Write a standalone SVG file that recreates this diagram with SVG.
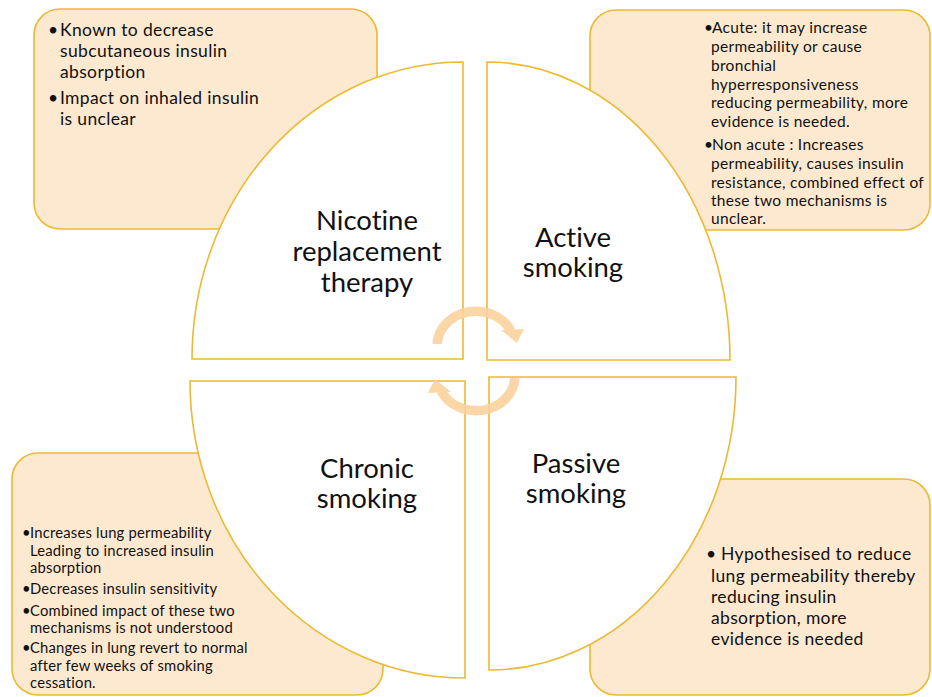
<svg xmlns="http://www.w3.org/2000/svg" width="932" height="697" viewBox="0 0 932 697">
<style>
.box{fill:#FDE9CF;stroke:#EDB932;stroke-width:1.6}
.quad{fill:#FFFFFF;stroke:#EDB932;stroke-width:1.6}
text{font-family:Lato,"Liberation Sans",sans-serif;fill:#111111;font-variant-ligatures:none;font-feature-settings:"liga" 0,"clig" 0}
.lbl{font-size:27.5px;text-anchor:middle}
.t16{font-size:17.5px;letter-spacing:0.35px}
.t14{font-size:15.5px;letter-spacing:0.3px}
.t13{font-size:14.8px;letter-spacing:0.2px}
.arc{fill:none;stroke:#FBD39F;stroke-width:9.5}
.head{fill:#FBD39F}
</style>
<rect width="932" height="697" fill="#FFFFFF"/>

<g id="nrt-notes">
<rect class="box" x="34" y="9" width="343" height="220" rx="26"/>
<text class="t16"><tspan x="48" y="36">•</tspan><tspan x="60" y="36">Known to decrease</tspan><tspan x="60" y="57">subcutaneous insulin</tspan><tspan x="60" y="78">absorption</tspan><tspan x="48" y="104">•</tspan><tspan x="60" y="104">Impact on inhaled insulin</tspan><tspan x="60" y="125">is unclear</tspan></text>
</g>

<g id="active-notes">
<rect class="box" x="590" y="10" width="340" height="220" rx="26"/>
<text class="t14"><tspan x="704" y="33">•</tspan><tspan x="712" y="33">Acute: it may increase</tspan><tspan x="711" y="52">permeability or cause</tspan><tspan x="711" y="71">bronchial</tspan><tspan x="711" y="90">hyperresponsiveness</tspan><tspan x="711" y="108">reducing permeability, more</tspan><tspan x="711" y="127">evidence is needed.</tspan><tspan x="704" y="150">•</tspan><tspan x="712" y="150">Non acute : Increases</tspan><tspan x="711" y="169">permeability, causes insulin</tspan><tspan x="711" y="188">resistance, combined effect of</tspan><tspan x="711" y="206">these two mechanisms is</tspan><tspan x="711" y="224">unclear.</tspan></text>
</g>

<g id="chronic-notes">
<rect class="box" x="12" y="453" width="371" height="242" rx="26"/>
<text class="t13"><tspan x="22" y="538">•</tspan><tspan x="30" y="538">Increases lung permeability</tspan><tspan x="30" y="556">Leading to increased insulin</tspan><tspan x="30" y="573">absorption</tspan><tspan x="22" y="594">•</tspan><tspan x="30" y="594">Decreases insulin sensitivity</tspan><tspan x="22" y="616">•</tspan><tspan x="30" y="616">Combined impact of these two</tspan><tspan x="30" y="633">mechanisms is not understood</tspan><tspan x="22" y="653">•</tspan><tspan x="30" y="653">Changes in lung revert to normal</tspan><tspan x="30" y="671">after few weeks of smoking</tspan><tspan x="30" y="688">cessation.</tspan></text>
</g>

<g id="passive-notes">
<rect class="box" x="590" y="479" width="340" height="216" rx="26"/>
<text class="t16"><tspan x="706" y="560">•</tspan><tspan x="721" y="560">Hypothesised to reduce</tspan><tspan x="711" y="582">lung permeability thereby</tspan><tspan x="711" y="603">reducing insulin</tspan><tspan x="711" y="624">absorption, more</tspan><tspan x="711" y="645">evidence is needed</tspan></text>
</g>

<g id="nrt">
<path class="quad" d="M463,359 L463,62 A271,297 0 0 0 192,359 Z"/>
<text class="lbl"><tspan x="367" y="230">Nicotine</tspan><tspan x="367" y="261">replacement</tspan><tspan x="367" y="292">therapy</tspan></text>
</g>

<g id="active">
<path class="quad" d="M487,360 L487,62 A243,298 0 0 1 730,360 Z"/>
<text class="lbl"><tspan x="573" y="247">Active</tspan><tspan x="573" y="277">smoking</tspan></text>
</g>

<g id="chronic">
<path class="quad" d="M465,381 L190,381 A275,297 0 0 0 465,678 Z"/>
<text class="lbl"><tspan x="367" y="478">Chronic</tspan><tspan x="367" y="508">smoking</tspan></text>
</g>

<g id="passive">
<path class="quad" d="M489,377 L736,377 A247,293 0 0 1 489,670 Z"/>
<text class="lbl"><tspan x="576" y="473">Passive</tspan><tspan x="576" y="503">smoking</tspan></text>
</g>

<g id="connectors" opacity="0.9">
<g id="arrow-top">
<path class="arc" d="M437,344 A39,35 0 0 1 511,331"/>
<polygon class="head" points="501,330 524,329 517,343"/>
</g>
<g id="arrow-bottom" transform="rotate(180 476 361)">
<path class="arc" d="M437,344 A39,35 0 0 1 511,331"/>
<polygon class="head" points="501,330 524,329 517,343"/>
</g>
</g>
</svg>
